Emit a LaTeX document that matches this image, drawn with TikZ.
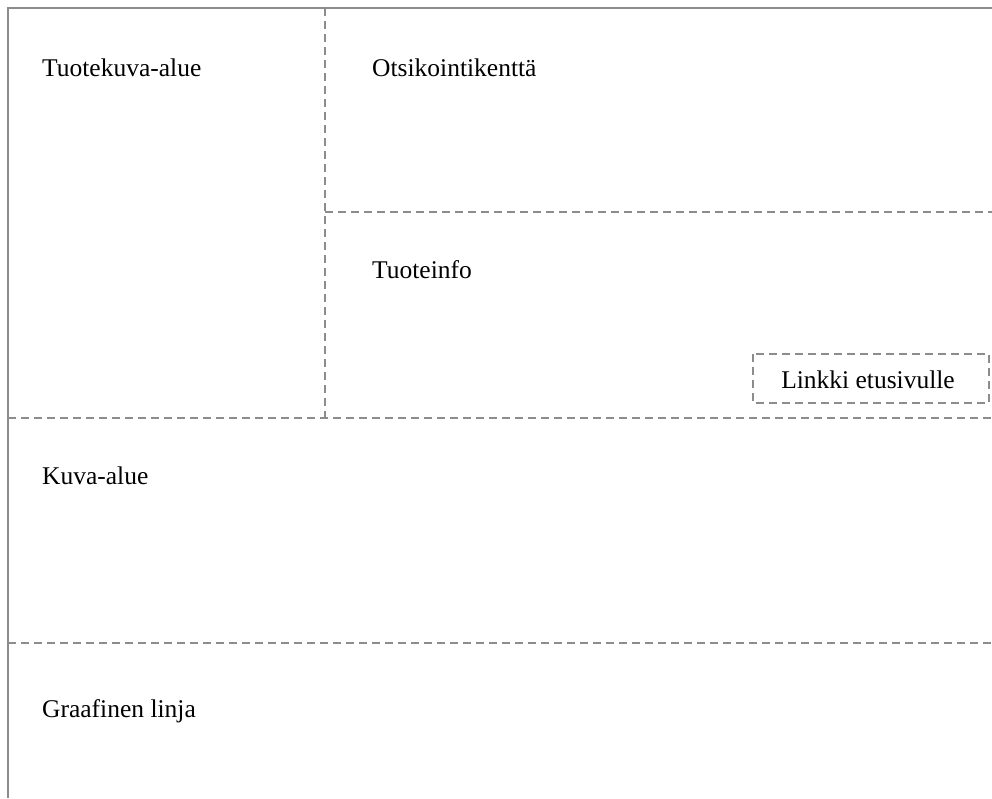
\documentclass[tikz,border=0pt]{standalone}
\usepackage{fontspec}
\setmainfont{Liberation Serif}
\begin{document}
\begin{tikzpicture}[x=1pt,y=-1pt,
  frame/.style={draw=black!45,line width=2.2pt},
  dline/.style={draw=black!45,line width=2.2pt,dash pattern=on 8pt off 5pt},
  lbl/.style={anchor=base west,inner sep=0pt,font=\fontsize{25.5}{30}\selectfont}]
\useasboundingbox (0,0) rectangle (992,798);
\fill[white] (0,0) rectangle (992,798);
\coordinate (tl) at (8,8);
\coordinate (tr) at (992,8);
\coordinate (bl) at (8,798);
\draw[frame] (tr) -- (tl) -- (bl);
\coordinate (v1) at (325,8);
\coordinate (v2) at (325,418);
\draw[dline] (v1) -- (v2);
\coordinate (h1a) at (325,212);
\coordinate (h1b) at (992,212);
\draw[dline] (h1a) -- (h1b);
\coordinate (h2a) at (8,418);
\coordinate (h2b) at (992,418);
\draw[dline] (h2a) -- (h2b);
\coordinate (h3a) at (8,643);
\coordinate (h3b) at (992,643);
\draw[dline] (h3a) -- (h3b);
\node[lbl] (t1) at (42,76) {Tuotekuva-alue};
\node[lbl] (t2) at (372,76) {Otsikointikenttä};
\node[lbl] (t3) at (372,278) {Tuoteinfo};
\node[lbl] (t4) at (42,484) {Kuva-alue};
\node[lbl] (t5) at (42,717) {Graafinen linja};
\draw[dline] (753,354) rectangle (989,403);
\node[font=\fontsize{25.5}{30}\selectfont,inner sep=0pt] (link) at (868,380) {Linkki etusivulle};
\end{tikzpicture}
\end{document}
